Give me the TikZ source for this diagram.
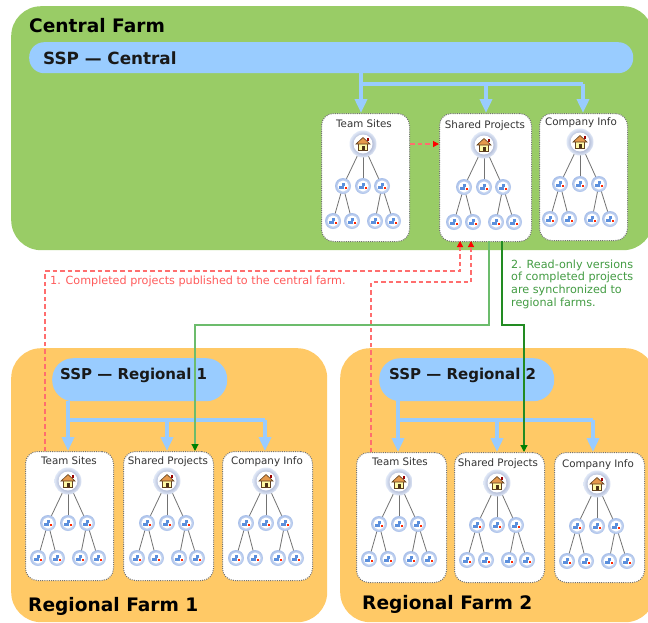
\documentclass[tikz,border=0pt]{standalone}
\usepackage{fontspec}
\setmainfont{DejaVu Sans}
\usetikzlibrary{arrows.meta,calc,shapes.geometric}
\definecolor{farmgreen}{HTML}{99CC66}
\definecolor{farmorange}{HTML}{FFC966}
\definecolor{sspblue}{HTML}{99CCFF}
\definecolor{pubred}{HTML}{FF5C5C}
\definecolor{publine}{HTML}{FF6E6E}
\definecolor{syncgreen}{HTML}{228B22}
\definecolor{synclight}{HTML}{6CBC6C}
\definecolor{ballring}{HTML}{A9C0EA}
\definecolor{ballglyph}{HTML}{5B8FDC}
\tikzset{
  farm/.style={fill=#1,draw=none,rounded corners=30pt,inner sep=0pt,anchor=north west},
  farmtitle/.style={font=\bfseries\fontsize{18.6}{22}\selectfont,anchor=base west,inner sep=0pt,text=black},
  ssppill/.style={fill=sspblue,draw=none,inner sep=0pt,anchor=north west},
  ssptitle/.style={font=\bfseries\fontsize{15}{18}\selectfont,anchor=base west,inner sep=0pt,text=black!90},
  sitepanel/.style={fill=white,draw=black!55,dash pattern=on 1pt off 1.2pt,line width=1pt,rounded corners=12pt,inner sep=0pt,anchor=north west},
  sitelabel/.style={font=\fontsize{10.3}{12}\selectfont,inner sep=0pt,text=black!80,anchor=base},
  link/.style={draw=black!55,line width=0.8pt},
  bluearrow/.style={draw=sspblue,line width=3.5pt,-{Triangle[length=14pt,width=12pt]}},
  blueline/.style={draw=sspblue,line width=3.5pt},
  pubarrow/.style={draw=publine,line width=1.15pt,dash pattern=on 4.5pt off 3pt,-{Triangle[length=6pt,width=6pt,color=red]}},
  syncarrow/.style={draw=syncgreen,line width=1.15pt,-{Triangle[length=7pt,width=7pt,color=green!50!black]}},
  note/.style={font=\fontsize{11.2}{12.7}\selectfont,anchor=base west,inner sep=0pt,align=left}
}
% small site ball: #1 name, #2 x, #3 y
\newcommand{\smallball}[3]{%
  \node[circle,minimum size=16pt,inner sep=0pt,draw=none,inner color=white,outer color=ballring] (#1) at (#2,#3) {};
  \fill[white] (#2,#3) circle (5.5pt);
  \fill[ballglyph] ({#2-4},{#3}) rectangle ({#2+0.5},{#3+2.5});
  \fill[ballglyph] ({#2-1.5},{#3-3}) rectangle ({#2+1.5},{#3});
  \fill[red!70!orange] ({#2+1.5},{#3+0.5}) rectangle ({#2+4},{#3+3});
}
% big root ball: #1 name, #2 x, #3 y
\newcommand{\bigball}[3]{%
  \node[circle,minimum size=27pt,inner sep=0pt,draw=none,inner color=ballring!60!black!90!blue,outer color=ballring!35!white] (#1) at (#2,#3) {};
  \fill[white] (#2,#3) circle (9.5pt);
  \fill[yellow!35!white,draw=black!50!brown,line width=0.7pt] ({#2-4.5},{#3+6}) rectangle ({#2+4.5},{#3-1});
  \fill[black!60!brown] ({#2-1.5},{#3+6}) rectangle ({#2+1.5},{#3+1.5});
  \fill[orange!50!brown!80!white,draw=black!50!brown,line width=0.6pt] ({#2-7},{#3}) -- ({#2},{#3-6.5}) -- ({#2+7},{#3}) -- cycle;
  \fill[red!60!black] ({#2+3.5},{#3-6}) rectangle ({#2+5.5},{#3-3});
}
% site panel: #1 name, #2 x1, #3 y1, #4 x2, #5 y2, #6 root x, #7 root y, #8 label
\newcommand{\sitepanelbox}[8]{%
  \node[sitepanel,minimum width={(#4-#2)*1pt},minimum height={(#5-#3)*1pt}] (#1) at (#2,#3) {};
  \node[sitelabel] (#1-t) at ({#6+1},{#7-17}) {#8};
  \pgfmathsetmacro{\ax}{#6-20}\pgfmathsetmacro{\bx}{#6}\pgfmathsetmacro{\cx}{#6+19}
  \pgfmathsetmacro{\dx}{#6-30}\pgfmathsetmacro{\ex}{#6-11}\pgfmathsetmacro{\fx}{#6+12}\pgfmathsetmacro{\gx}{#6+30}
  \pgfmathsetmacro{\my}{#7+42}\pgfmathsetmacro{\ly}{#7+77}
  \draw[link] (#6,#7) -- (\ax,\my);
  \draw[link] (#6,#7) -- (\bx,\my);
  \draw[link] (#6,#7) -- (\cx,\my);
  \draw[link] (\ax,\my) -- (\dx,\ly);
  \draw[link] (\ax,\my) -- (\ex,\ly);
  \draw[link] (\cx,\my) -- (\fx,\ly);
  \draw[link] (\cx,\my) -- (\gx,\ly);
  \bigball{#1-r}{#6}{#7}
  \smallball{#1-a}{\ax}{\my}
  \smallball{#1-b}{\bx}{\my}
  \smallball{#1-c}{\cx}{\my}
  \smallball{#1-d}{\dx}{\ly}
  \smallball{#1-e}{\ex}{\ly}
  \smallball{#1-f}{\fx}{\ly}
  \smallball{#1-g}{\gx}{\ly}
}
\begin{document}
\begin{tikzpicture}[x=1pt,y=-1pt]
\useasboundingbox (0,0) rectangle (648,622);
\clip (0,0) rectangle (648,622);
\fill[white] (0,0) rectangle (648,622);
% farms
\node[farm=farmgreen,minimum width=642pt,minimum height=244pt] (central) at (11,6) {};
\node[farm=farmorange,minimum width=316pt,minimum height=274pt] (reg1) at (11,348) {};
\node[farm=farmorange,minimum width=315pt,minimum height=274pt] (reg2) at (340,348) {};
\node[farmtitle] (centralT) at (29,32) {Central Farm};
\node[farmtitle] (reg1T) at (28,611) {Regional Farm 1};
\node[farmtitle] (reg2T) at (362,609) {Regional Farm 2};
% SSP pills
\node[ssppill,rounded corners=15pt,minimum width=604pt,minimum height=31pt] (sspc) at (29,42) {};
\node[ssppill,rounded corners=21pt,minimum width=175pt,minimum height=43pt] (ssp1) at (52,358) {};
\node[ssppill,rounded corners=21pt,minimum width=175pt,minimum height=43pt] (ssp2) at (379,358) {};
\node[ssptitle,font=\bfseries\fontsize{16.8}{20}\selectfont] (sspcT) at (43,64) {SSP — Central};
\node[ssptitle] (ssp1T) at (60,379) {SSP — Regional 1};
\node[ssptitle] (ssp2T) at (389,379) {SSP — Regional 2};
% panels
\sitepanelbox{cts}{321}{113}{409}{241}{363}{144}{Team Sites}
\sitepanelbox{csp}{439}{113}{531}{241}{484}{145}{Shared Projects}
\sitepanelbox{cci}{539}{113}{627}{240}{580}{142}{Company Info}
\sitepanelbox{ats}{25}{451}{113}{580}{68}{481}{Team Sites}
\sitepanelbox{asp}{123}{451}{213}{580}{167}{481}{Shared Projects}
\sitepanelbox{aci}{222}{451}{312}{580}{266}{481}{Company Info}
\sitepanelbox{bts}{356}{452}{446}{582}{399}{482}{Team Sites}
\sitepanelbox{bsp}{454}{452}{544}{582}{497}{483}{Shared Projects}
\sitepanelbox{bci}{554}{452}{644}{582}{597}{484}{Company Info}
% blue SSP connectors
\coordinate (c0) at (361,73); \coordinate (c1) at (361,84); \coordinate (c2) at (486,84); \coordinate (c3) at (583,84);
\coordinate (a0) at (68,401); \coordinate (a1) at (68,420); \coordinate (a2) at (167,420); \coordinate (a3) at (265,420);
\coordinate (b0) at (398,401); \coordinate (b1) at (398,420); \coordinate (b2) at (497,420); \coordinate (b3) at (593,420);
\draw[blueline] (c1) -- (c3);
\draw[bluearrow] (c0) -- (cts.north -| c1);
\draw[bluearrow] (c2) -- (csp.north -| c2);
\draw[bluearrow] (c3) -- (cci.north -| c3);
\draw[blueline] (a1) -- (a3);
\draw[bluearrow] (a0) -- (ats.north -| a1);
\draw[bluearrow] (a2) -- (asp.north -| a2);
\draw[bluearrow] (a3) -- (aci.north -| a3);
\draw[blueline] (b1) -- (b3);
\draw[bluearrow] (b0) -- (bts.north -| b1);
\draw[bluearrow] (b2) -- (bsp.north -| b2);
\draw[bluearrow] (b3) -- (bci.north -| b3);
% publish connectors
\coordinate (p1s) at (45,451); \coordinate (p1a) at (45,271); \coordinate (p1b) at (460,271); \coordinate (p1e) at (460,241);
\coordinate (p2s) at (371,452); \coordinate (p2a) at (371,282); \coordinate (p2b) at (471,282); \coordinate (p2e) at (471,241);
\draw[pubarrow] (p1s) -- (p1a) -- (p1b) -- (p1e);
\draw[pubarrow] (p2s) -- (p2a) -- (p2b) -- (p2e);
\draw[pubarrow] (cts.east |- 0,144) -- (csp.west |- 0,144);
% sync connectors
\coordinate (s1s) at (489,241); \coordinate (s1a) at (489,325); \coordinate (s1b) at (195,325); \coordinate (s1e) at (195,451);
\coordinate (s2s) at (502,241); \coordinate (s2a) at (502,325); \coordinate (s2b) at (524,325); \coordinate (s2e) at (524,452);
\draw[syncarrow,draw=synclight] (s1s) -- (s1a) -- (s1b) -- (s1e);
\draw[syncarrow] (s2s) -- (s2a) -- (s2b) -- (s2e);
% notes
\node[note,text=pubred] (n1) at (50,284) {1. Completed projects published to the central farm.};
\node[note,text=syncgreen!85!white,anchor=north west] (n2) at (511,259.5) {2. Read-only versions\\of completed projects\\are synchronized to\\regional farms.};
\end{tikzpicture}
\end{document}
